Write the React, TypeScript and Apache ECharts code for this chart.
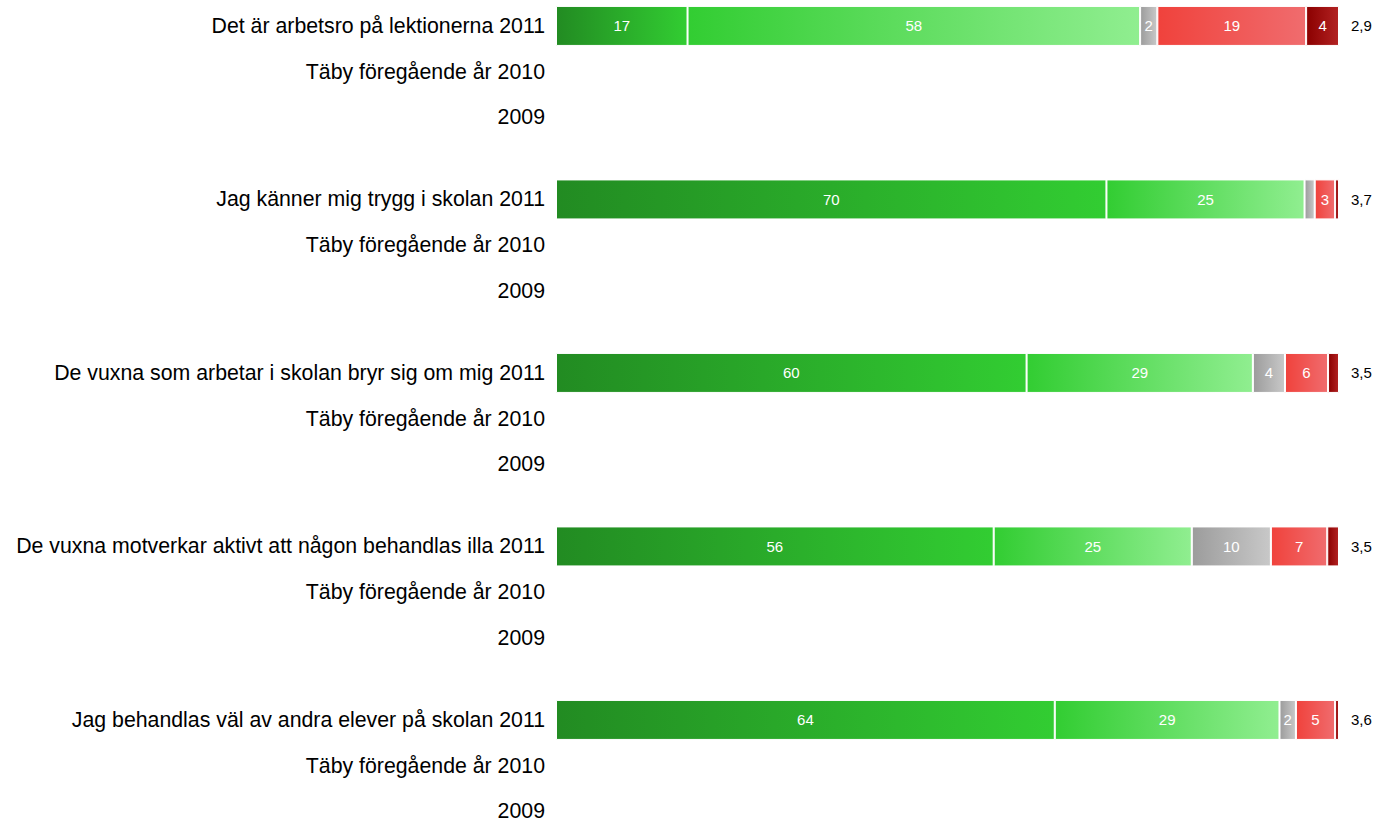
import React, { useEffect, useRef } from "react";
import * as echarts from "echarts";

const questions = [
  "Det är arbetsro på lektionerna",
  "Jag känner mig trygg i skolan",
  "De vuxna som arbetar i skolan bryr sig om mig",
  "De vuxna motverkar aktivt att någon behandlas illa",
  "Jag behandlas väl av andra elever på skolan",
];
const rowSuffixes = ["2011", "Täby föregående år 2010", "2009"];

// Percentages for 2011 (2010 and 2009 rows are empty)
const stamparHelt = [16.8, 70.3, 60.1, 55.9, 63.7];
const stamparGanska = [57.8, 25.3, 28.9, 25.3, 28.7];
const vetEj = [2.2, 1.3, 4.1, 10.1, 2.1];
const stamparGanskaDaligt = [19.0, 2.6, 5.5, 7.2, 5.0];
const stamparInte = [4.2, 0.5, 1.4, 1.5, 0.5];
const averages = ["2,9", "3,7", "3,5", "3,5", "3,6"];

const seriesDefs = [
  { name: "Stämmer helt och hållet", values: stamparHelt, c0: "#228B22", c1: "#32CD32" },
  { name: "Stämmer ganska bra", values: stamparGanska, c0: "#32CD32", c1: "#90EE90" },
  { name: "Vet ej", values: vetEj, c0: "#9C9C9C", c1: "#C8C8C8" },
  { name: "Stämmer ganska dåligt", values: stamparGanskaDaligt, c0: "#F0423C", c1: "#F06C6E" },
  { name: "Stämmer inte alls", values: stamparInte, c0: "#8B0000", c1: "#B22222" },
];

const FONT = "Liberation Sans, Arial, sans-serif";

export default function App() {
  const ref = useRef<HTMLDivElement>(null);
  useEffect(() => {
    if (!ref.current) return;
    const chart = echarts.init(ref.current, null, { renderer: "svg" });
    const grids: any[] = [];
    const xAxes: any[] = [];
    const yAxes: any[] = [];
    const series: any[] = [];
    questions.forEach((q, gi) => {
      grids.push({ left: 556, right: 40, top: 3.1 + 173.5 * gi, height: 137 });
      xAxes.push({ type: "value", gridIndex: gi, min: 0, max: 100, show: false });
      const cats = [q + " " + rowSuffixes[0], rowSuffixes[1], rowSuffixes[2]];
      yAxes.push({
        type: "category",
        gridIndex: gi,
        data: cats,
        inverse: true,
        position: "left",
        axisLine: { show: false },
        axisTick: { show: false },
        splitLine: { show: false },
        axisLabel: { color: "#000", fontSize: 21.3, fontFamily: FONT, margin: 11 },
      });
      yAxes.push({
        type: "category",
        gridIndex: gi,
        data: [averages[gi], "", ""],
        inverse: true,
        position: "right",
        axisLine: { show: false },
        axisTick: { show: false },
        splitLine: { show: false },
        axisLabel: { color: "#000", fontSize: 15, fontFamily: FONT, margin: 12 },
      });
      seriesDefs.forEach((s) => {
        series.push({
          type: "bar",
          name: s.name,
          xAxisIndex: gi,
          yAxisIndex: gi * 2,
          stack: "q" + gi,
          barWidth: 40,
          clip: false,
          data: [s.values[gi], null, null],
          itemStyle: {
            color: new echarts.graphic.LinearGradient(0, 0, 1, 0, [
              { offset: 0, color: s.c0 },
              { offset: 1, color: s.c1 },
            ]),
            borderColor: "#fff",
            borderWidth: 1,
          },
          label: {
            show: true,
            position: "inside",
            color: "#fff",
            fontSize: 15,
            fontFamily: FONT,
            formatter: (p: any) => (p.value >= 1.8 ? String(Math.round(p.value)) : ""),
          },
        });
      });
    });
    chart.setOption({
      animation: false,
      grid: grids,
      xAxis: xAxes,
      yAxis: yAxes,
      series,
    });
    return () => chart.dispose();
  }, []);
  return (
    <div
      ref={ref}
      style={{ position: "fixed", left: 0, top: 0, width: 1379, height: 850, background: "#fff" }}
    />
  );
}
